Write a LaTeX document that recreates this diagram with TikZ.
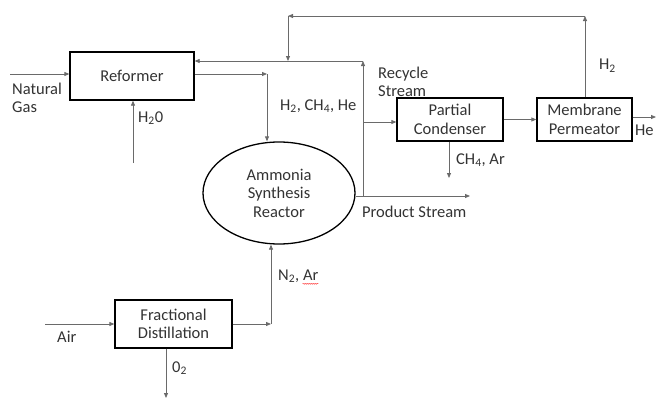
\documentclass[tikz,border=0pt]{standalone}
\usepackage{fontspec}
\setmainfont{Carlito}
\usetikzlibrary{arrows.meta,shapes.geometric,decorations.pathmorphing}
\definecolor{txt}{HTML}{333333}
\definecolor{ln}{HTML}{6A6A6A}
\begin{document}
\begin{tikzpicture}[x=1pt,y=-1pt,
  font=\fontsize{16.5}{18.5}\selectfont,
  box/.style={draw=black,line width=1.3pt,inner sep=0pt,align=center,text=txt},
  flow/.style={draw=ln,line width=0.8pt,-{Triangle[length=5pt,width=4pt]}},
  lbl/.style={inner sep=0pt,anchor=west,align=left,text=txt}]
\useasboundingbox (0,0) rectangle (657,399);
% units
\node[box,minimum width=124pt,minimum height=48pt] (ref) at (132,76) {Reformer};
\node[box,minimum width=106pt,minimum height=43pt] (cond) at (450,119.5) {Partial\\Condenser};
\node[box,minimum width=95pt,minimum height=43pt] (mem) at (584.5,119.5) {Membrane\\Permeator};
\node[box,minimum width=117pt,minimum height=48pt] (fd) at (173.5,324) {Fractional\\Distillation};
\node[box,ellipse,minimum width=152pt,minimum height=102pt] (reac) at (279,193) {Ammonia\\Synthesis\\Reactor};
% coordinates
\coordinate (ng) at (10,74);
\coordinate (h2o) at (133,163);
\coordinate (c1) at (267,74);
\coordinate (ps) at (470,196);
\coordinate (rcb) at (363,196);
\coordinate (rct) at (363,61);
\coordinate (rcm) at (363,122);
\coordinate (he) at (656,117);
\coordinate (h2t) at (585,16);
\coordinate (tl) at (288,16);
\coordinate (tlb) at (288,61);
\coordinate (ch4) at (449,178);
\coordinate (air) at (45,324);
\coordinate (c2) at (271,324);
\coordinate (o2) at (166,398);
% connectors
\draw[flow] (ng) -- (ng -| ref.west);
\draw[flow] (h2o) -- (h2o |- ref.south);
\draw[flow] (c1 -| ref.east) -- (c1);
\draw[flow] (c1) -- (c1 |- reac.north);
\draw[flow] (ps -| reac.east) -- (ps);
\draw[flow] (rcb) -- (rct);
\draw[flow] (rct) -- (rct -| ref.east);
\draw[flow] (rcm) -- (rcm -| cond.west);
\draw[flow] (cond.east) -- (mem.west);
\draw[flow] (he -| mem.east) -- (he);
\draw[flow] (h2t |- mem.north) -- (h2t);
\draw[flow] (h2t) -- (tl);
\draw[flow] (tl) -- (tlb);
\draw[flow] (ch4 |- cond.south) -- (ch4);
\draw[flow] (air) -- (air -| fd.west);
\draw[flow] (c2 -| fd.east) -- (c2);
\draw[flow] (c2) -- (c2 |- reac.south);
\draw[flow] (o2 |- fd.south) -- (o2);
% labels
\node[lbl] (lng) at (12,98) {Natural\\Gas};
\node[lbl] (lh2o) at (138,118) {H\textsubscript{2}0};
\node[lbl] (lh2) at (280,106) {H\textsubscript{2}, CH\textsubscript{4}, He};
\node[lbl] (lrs) at (378,82) {Recycle\\Stream};
\node[lbl] (lch4) at (456,160) {CH\textsubscript{4}, Ar};
\node[lbl] (lh2m) at (599,66) {H\textsubscript{2}};
\node[lbl] (lhe) at (635,130) {He};
\node[lbl] (lps) at (362,212) {Product Stream};
\node[lbl] (ln2) at (278,276) {N\textsubscript{2}, Ar};
\node[lbl] (lair) at (57,337) {Air};
\node[lbl] (lo2) at (172,368) {0\textsubscript{2}};
\draw[red!80,line width=0.4pt,decorate,decoration={snake,amplitude=0.5pt,segment length=2pt}]
  ([xshift=-16pt,yshift=-1pt]ln2.south east) -- ([yshift=-1pt]ln2.south east);
\end{tikzpicture}
\end{document}
